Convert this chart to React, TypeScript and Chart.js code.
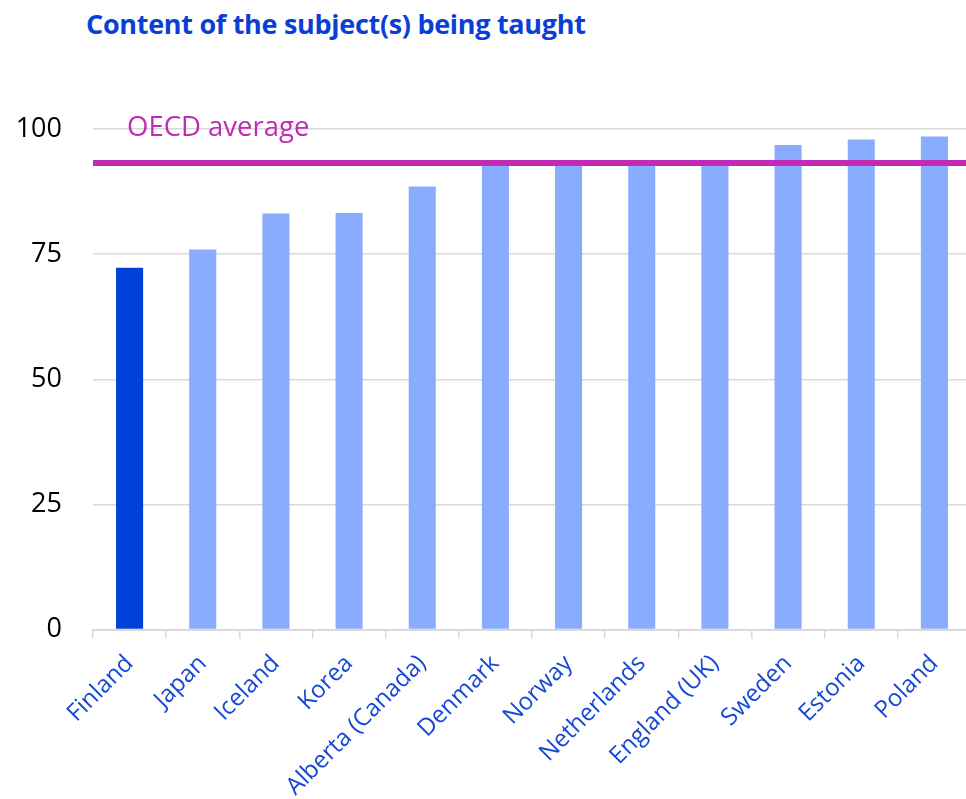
import React, { useEffect, useRef } from "react";
import { Chart, registerables } from "chart.js";

Chart.register(...registerables);

const categories = [
  "Finland",
  "Japan",
  "Iceland",
  "Korea",
  "Alberta (Canada)",
  "Denmark",
  "Norway",
  "Netherlands",
  "England (UK)",
  "Sweden",
  "Estonia",
  "Poland",
];
const values = [72.3, 75.9, 83.1, 83.2, 88.5, 93.0, 93.0, 93.1, 93.2, 96.8, 97.9, 98.5];
const highlighted = ["Finland"];
const oecdAverage = 93.2;
const oecdLabel = "OECD average";
const yTicks = [0, 25, 50, 75, 100];
const title = "Content of the subject(s) being taught";

const FONT = "'Open Sans', 'Noto Sans', sans-serif";
const DARK = "#0041d9";
const LIGHT = "#8aacff";
const MAGENTA = "#c02ab4";
const LABEL_BLUE = "#1548d6";
const GRID = "#d9d9d9";

const avgPlugin = {
  id: "oecdAverage",
  afterDatasetsDraw(chart: any) {
    const { ctx, chartArea, scales } = chart;
    const y = scales.y.getPixelForValue(oecdAverage);
    ctx.save();
    ctx.strokeStyle = MAGENTA;
    ctx.lineWidth = 6;
    ctx.beginPath();
    ctx.moveTo(chartArea.left, y);
    ctx.lineTo(chartArea.right, y);
    ctx.stroke();
    ctx.fillStyle = MAGENTA;
    ctx.font = `27.5px ${FONT}`;
    ctx.textAlign = "left";
    ctx.textBaseline = "alphabetic";
    ctx.fillText(oecdLabel, chartArea.left + 34, scales.y.getPixelForValue(100) + 7);
    ctx.restore();
  },
};

export default function App() {
  const ref = useRef<HTMLCanvasElement | null>(null);

  useEffect(() => {
    if (!ref.current) return;
    const chart = new Chart(ref.current, {
      type: "bar",
      data: {
        labels: categories,
        datasets: [
          {
            data: values,
            backgroundColor: categories.map((c) => (highlighted.includes(c) ? DARK : LIGHT)),
            barPercentage: 0.74,
            categoryPercentage: 0.5,
          },
        ],
      },
      options: {
        responsive: false,
        animation: false,
        layout: { padding: { left: 10, right: 9, top: 129, bottom: 0 } },
        plugins: {
          legend: { display: false },
          tooltip: { enabled: false },
          title: { display: false },
        },
        scales: {
          x: {
            offset: true,
            grid: {
              offset: true,
              drawOnChartArea: false,
              drawTicks: true,
              tickLength: 9,
              color: GRID,
              lineWidth: 1.5,
            },
            border: { display: true, color: GRID, width: 2 },
            ticks: {
              autoSkip: false,
              maxRotation: 45,
              minRotation: 45,
              padding: 11,
              color: LABEL_BLUE,
              font: { family: FONT, size: 24 },
            },
            afterFit(scale: any) {
              scale.height = 799 - 629.5;
            },
          },
          y: {
            min: 0,
            max: 100,
            afterBuildTicks(scale: any) {
              scale.ticks = yTicks.map((v) => ({ value: v }));
            },
            grid: { color: GRID, lineWidth: 1.5, drawTicks: false },
            border: { display: false },
            ticks: {
              padding: 31,
              color: "#000",
              font: { family: FONT, size: 27 },
            },
            afterFit(scale: any) {
              scale.width = 93 - 10;
            },
          },
        },
      },
      plugins: [avgPlugin],
    });
    return () => chart.destroy();
  }, []);

  return (
    <div
      style={{
        position: "absolute",
        left: 0,
        top: 0,
        width: 966,
        height: 799,
        overflow: "hidden",
        background: "#fff",
      }}
    >
      <div
        style={{
          position: "absolute",
          left: 86,
          top: 5,
          fontFamily: FONT,
          fontWeight: 700,
          fontSize: 27,
          lineHeight: "37px",
          color: "#0a3fd6",
          whiteSpace: "nowrap",
          letterSpacing: -0.3,
        }}
      >
        {title}
      </div>
      <canvas ref={ref} width={980} height={799} style={{ position: "absolute", left: 0, top: 0 }} />
    </div>
  );
}
